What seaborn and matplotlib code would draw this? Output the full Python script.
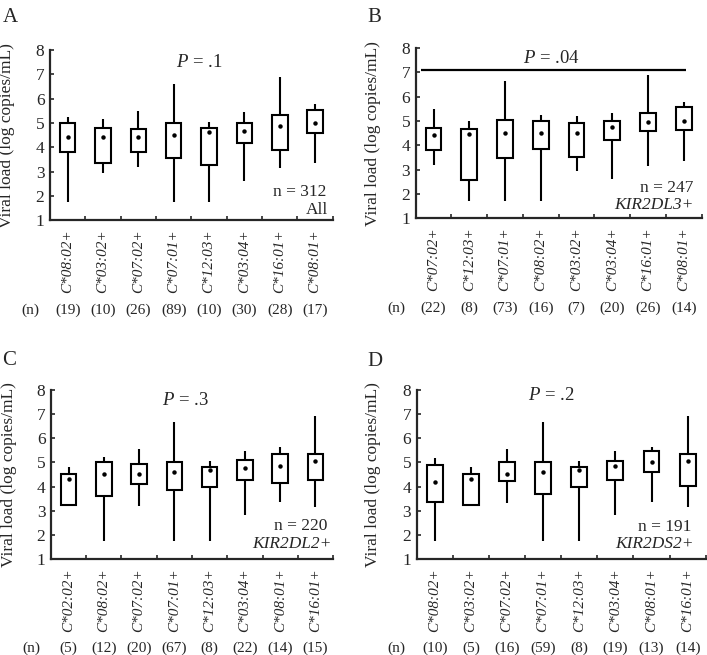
import numpy as np
import pandas as pd
import matplotlib
matplotlib.use("Agg")
import matplotlib.pyplot as plt
import seaborn as sns

# ---------------- data ----------------
cats_A = ["C*08:02+", "C*03:02+", "C*07:02+", "C*07:01+", "C*12:03+", "C*03:04+", "C*16:01+", "C*08:01+"]
n_A = [19, 10, 26, 89, 10, 30, 28, 17]
lo_A = [1.73, 2.95, 3.19, 1.73, 1.73, 2.62, 3.14, 3.36]
q1_A = [3.81, 3.36, 3.81, 3.57, 3.25, 4.16, 3.88, 4.59]
q3_A = [4.98, 4.80, 4.76, 4.98, 4.80, 4.98, 5.32, 5.53]
hi_A = [5.25, 5.18, 5.50, 6.62, 5.03, 5.46, 6.90, 5.77]
mean_A = [4.43, 4.43, 4.43, 4.50, 4.61, 4.65, 4.88, 5.01]

cats_B = ["C*07:02+", "C*12:03+", "C*07:01+", "C*08:02+", "C*03:02+", "C*03:04+", "C*16:01+", "C*08:01+"]
n_B = [22, 8, 73, 16, 7, 20, 26, 14]
lo_B = [3.20, 1.71, 1.71, 1.71, 2.94, 2.61, 3.15, 3.36]
q1_B = [3.81, 2.58, 3.48, 3.84, 3.51, 4.21, 4.58, 4.62]
q3_B = [4.73, 4.69, 5.05, 4.98, 4.90, 5.02, 5.34, 5.57]
hi_B = [5.50, 5.02, 6.63, 5.23, 5.19, 5.32, 6.89, 5.78]
mean_B = [4.42, 4.47, 4.50, 4.50, 4.51, 4.76, 4.95, 5.02]

cats_C = ["C*02:02+", "C*08:02+", "C*07:02+", "C*07:01+", "C*12:03+", "C*03:04+", "C*08:01+", "C*16:01+"]
n_C = [5, 12, 20, 67, 8, 22, 14, 15]
lo_C = [3.24, 1.73, 3.21, 1.73, 1.73, 2.83, 3.37, 3.16]
q1_C = [3.24, 3.61, 4.10, 3.86, 4.00, 4.28, 4.15, 4.26]
q3_C = [4.51, 5.01, 4.93, 5.00, 4.83, 5.08, 5.36, 5.36]
hi_C = [4.82, 5.22, 5.54, 6.67, 5.04, 5.48, 5.65, 6.93]
mean_C = [4.32, 4.51, 4.54, 4.62, 4.69, 4.78, 4.87, 5.05]

cats_D = ["C*08:02+", "C*03:02+", "C*07:02+", "C*07:01+", "C*12:03+", "C*03:04+", "C*08:01+", "C*16:01+"]
n_D = [10, 5, 16, 59, 8, 19, 13, 14]
lo_D = [1.73, 3.24, 3.30, 1.73, 1.73, 2.83, 3.37, 3.16]
q1_D = [3.35, 3.24, 4.22, 3.70, 4.00, 4.29, 4.61, 4.04]
q3_D = [4.90, 4.53, 5.01, 5.01, 4.83, 5.05, 5.47, 5.33]
hi_D = [5.19, 4.80, 5.54, 6.67, 5.04, 5.48, 5.65, 6.93]
mean_D = [4.17, 4.32, 4.54, 4.62, 4.69, 4.87, 5.01, 5.05]

panels = [
    dict(letter="A", cats=cats_A, n=n_A, lo=lo_A, q1=q1_A, q3=q3_A, hi=hi_A, mean=mean_A,
         p="$P$ = .1", total="n = 312", group="All", italic=False),
    dict(letter="B", cats=cats_B, n=n_B, lo=lo_B, q1=q1_B, q3=q3_B, hi=hi_B, mean=mean_B,
         p="$P$ = .04", total="n = 247", group="KIR2DL3+", italic=True),
    dict(letter="C", cats=cats_C, n=n_C, lo=lo_C, q1=q1_C, q3=q3_C, hi=hi_C, mean=mean_C,
         p="$P$ = .3", total="n = 220", group="KIR2DL2+", italic=True),
    dict(letter="D", cats=cats_D, n=n_D, lo=lo_D, q1=q1_D, q3=q3_D, hi=hi_D, mean=mean_D,
         p="$P$ = .2", total="n = 191", group="KIR2DS2+", italic=True),
]

# ---------------- style ----------------
sns.set_style("ticks")
plt.rcParams["font.family"] = ["Liberation Serif", "DejaVu Serif"]
plt.rcParams["mathtext.fontset"] = "custom"
plt.rcParams["mathtext.rm"] = "Liberation Serif"
plt.rcParams["mathtext.it"] = "Liberation Serif:italic"

fig = plt.figure(figsize=(7.07, 6.55), dpi=100)

# layout (figure fractions): left, bottom, width, height
rects = [
    [0.0707, 0.664, 0.400, 0.2595],
    [0.588, 0.667, 0.4045, 0.2595],
    [0.0721, 0.1466, 0.399, 0.258],
    [0.5894, 0.1466, 0.4088, 0.258],
]
letter_pos = [(0.004, 0.988), (0.519, 0.988), (0.003, 0.464), (0.519, 0.462)]
p_pos = [(0.527, 0.93), (0.476, 0.94), (0.475, 0.935), (0.464, 0.965)]
tot_pos = [(0.979, 0.165), (0.972, 0.18), (0.979, 0.195), (0.952, 0.19)]
grp_pos = [(0.983, 0.06), (0.972, 0.076), (0.996, 0.089), (0.958, 0.089)]

lw = 1.5
for k, pn in enumerate(panels):
    ax = fig.add_axes(rects[k])
    rows = []
    for c, a, b, m, d, e in zip(pn["cats"], pn["lo"], pn["q1"], pn["mean"], pn["q3"], pn["hi"]):
        for v in (a, b, m, d, e):
            rows.append({"allele": c, "vl": v})
    df = pd.DataFrame(rows)
    sns.boxplot(data=df, x="allele", y="vl", order=pn["cats"], ax=ax, whis=(0, 100),
                width=0.44, color="white", linecolor="black", linewidth=lw,
                showcaps=False, fill=True,
                medianprops=dict(visible=False),
                boxprops=dict(facecolor="white", edgecolor="black", linewidth=lw),
                whiskerprops=dict(color="black", linewidth=lw))
    dm = pd.DataFrame({"allele": pn["cats"], "mean": pn["mean"]})
    sns.stripplot(data=dm, x="allele", y="mean", order=pn["cats"], ax=ax, jitter=False,
                  color="black", size=3.2, zorder=5)

    ax.set_ylim(1, 8)
    ax.set_xlim(-0.5, 7.5)
    ax.set_yticks(range(1, 9))
    ax.tick_params(axis="y", direction="in", length=3, width=1.2, labelsize=12.5, pad=4)
    ax.set_xticks(range(len(pn["cats"])))
    ax.set_xticklabels(pn["cats"], rotation=90, fontstyle="italic", fontsize=11)
    ax.tick_params(axis="x", length=0, pad=7)
    ax.set_xticks(np.arange(0.5, 8.0, 1.0), minor=True)
    ax.tick_params(axis="x", which="minor", direction="in", length=3, width=1.2)
    for s in ("left", "bottom"):
        ax.spines[s].set_linewidth(1.6)
    sns.despine(ax=ax)
    ax.set_xlabel("")
    ax.set_ylabel("Viral load (log copies/mL)", fontsize=12.5)
    ax.yaxis.set_label_coords(-0.122, 0.5)

    # n row
    tr = ax.get_xaxis_transform()
    ax.text(-1.05, -0.53, "(n)", transform=tr, ha="center", va="center", fontsize=11, clip_on=False)
    for i, nv in enumerate(pn["n"]):
        ax.text(i, -0.53, f"({nv})", transform=tr, ha="center", va="center", fontsize=11, clip_on=False)

    ax.text(p_pos[k][0], p_pos[k][1], pn["p"], transform=ax.transAxes, ha="center", va="center", fontsize=13.5)
    ax.text(tot_pos[k][0], tot_pos[k][1], pn["total"], transform=ax.transAxes, ha="right", va="center", fontsize=12.5)
    ax.text(grp_pos[k][0], grp_pos[k][1], pn["group"], transform=ax.transAxes, ha="right", va="center",
            fontsize=12.5, fontstyle="italic" if pn["italic"] else "normal")
    if pn["letter"] == "B":
        ax.hlines(7.11, -0.35, 7.05, color="black", linewidth=1.6)

    fig.text(letter_pos[k][0], letter_pos[k][1], pn["letter"], ha="left", va="top", fontsize=15)

fig.savefig("out.png", dpi=100)
